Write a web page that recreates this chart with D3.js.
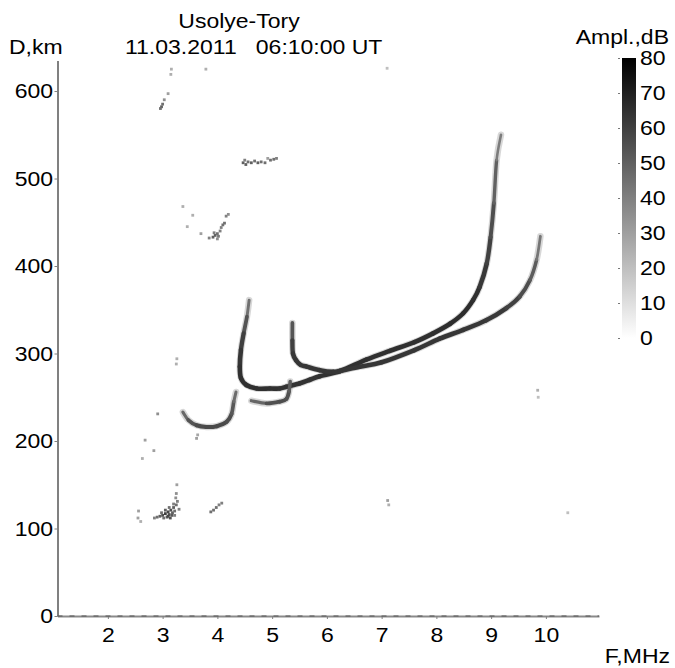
<!DOCTYPE html>
<html><head><meta charset="utf-8">
<script src="https://cdn.jsdelivr.net/npm/d3@7"></script>
<style>
html,body{margin:0;padding:0;background:#fff;}
svg{display:block;}
text{font-family:"Liberation Sans",Arial,sans-serif;fill:#000;white-space:pre;}
</style></head>
<body>
<svg id="chart" width="675" height="668"></svg>
<script>
// ---------- data ----------
const title = "Usolye-Tory";
const subtitle = "11.03.2011   06:10:00 UT";
const yLabel = "D,km";
const xLabel = "F,MHz";
const cLabel = "Ampl.,dB";
const xTicks = [2,3,4,5,6,7,8,9,10];
const yTicks = [0,100,200,300,400,500,600];
const cTicks = [0,10,20,30,40,50,60,70,80];

// traces: [frequency MHz, distance km, amplitude dB]
const traceA = [
 [4.58,361,40],[4.54,342,50],[4.48,323,58],[4.43,304,62],[4.41,285,64],[4.43,272,65],
 [4.53,264,65],[4.72,260,65],[4.96,260,65],[5.14,260,64],[5.26,262,64],[5.51,266,64],
 [5.69,270,64],[5.87,274,64],[6.24,280,65],[6.72,293,65],[7.15,303,65],[7.60,313,65],
 [7.94,323,65],[8.25,334,66],[8.49,346,66],[8.67,361,66],[8.79,376,64],[8.92,403,61],
 [8.99,433,58],[9.05,472,53],[9.10,521,46],[9.18,550,36]
];
const traceB = [
 [5.37,335,48],[5.37,315,58],[5.38,300,62],[5.44,292,63],[5.52,287,63],[5.63,285,63],
 [5.87,281,63],[6.12,279,63],[6.24,280,63],[6.60,285,63],[7.00,290,63],[7.60,304,63],
 [8.06,317,63],[8.49,327,63],[8.91,338,63],[9.28,352,61],[9.52,365,58],[9.71,384,54],
 [9.83,407,48],[9.90,434,38]
];
const traceC = [
 [3.37,233,42],[3.47,224,52],[3.62,218,56],[3.80,216,57],[3.99,217,57],[4.17,222,57],
 [4.26,231,55],[4.30,245,50],[4.34,256,42]
];
const traceD = [
 [4.62,246,42],[4.90,243,54],[5.14,245,56],[5.26,248,56],[5.31,257,54],[5.33,268,48]
];
// scattered echoes: [frequency MHz, distance km, amplitude dB]
const echoes = [
 [3.00,115,55],[3.05,117,60],[3.10,119,58],[3.15,121,55],[3.20,124,50],[3.25,127,45],
 [2.95,114,50],[2.90,113,45],[3.08,113,50],[3.12,116,55],[3.18,118,50],[3.22,120,45],
 [3.02,112,45],[2.85,112,40],[3.27,131,40],[3.25,140,35],[3.26,150,30],[3.24,135,35],
 [2.55,112,30],[2.56,120,30],[2.60,108,25],[3.30,122,40],[3.12,124,45],[3.05,121,50],
 [3.14,112,55],[3.10,114,58],[3.17,115,52],[3.20,128,40],[2.98,118,45],[3.22,115,40],
 [3.88,119,45],[3.93,121,45],[3.98,124,45],[4.03,127,40],[4.08,129,40],
 [2.91,231,35],[2.68,201,30],[2.84,189,30],[2.63,180,25],[3.62,203,30],[3.64,207,28],
 [3.25,288,25],[3.26,294,25],
 [3.92,433,50],[3.96,435,50],[4.00,437,45],[4.05,440,40],[4.10,447,45],[4.13,449,45],
 [4.16,457,40],[4.20,459,35],[3.37,468,25],[3.55,458,25],[3.45,445,25],[3.70,437,30],
 [3.85,432,40],[4.00,431,35],[3.94,438,40],[4.07,444,40],[4.02,434,42],
 [4.47,518,50],[4.52,516,50],[4.56,519,45],[4.62,518,50],[4.68,520,45],[4.74,518,50],
 [4.80,519,45],[4.87,518,45],[4.97,521,45],[5.03,522,45],[5.08,523,40],[4.50,521,40],
 [4.92,523,30],
 [2.98,582,50],[3.00,585,45],[2.96,580,45],[3.03,590,35],[3.10,597,30],[3.16,625,25],
 [3.15,619,25],[3.79,625,25],
 [7.11,132,30],[7.13,127,25],[9.85,258,25],[9.86,250,20],[10.40,118,20],[7.10,626,20]
];

// ---------- layout ----------
const svg = d3.select("#chart");
const FS = 19.5, SX = 1.18;
const x = d3.scaleLinear().domain([1.08, 10.97]).range([57.5, 599]);
const y = d3.scaleLinear().domain([0, 635]).range([616, 60.4]);
const color = d3.scaleLinear().domain([0, 80]).range(["#ffffff", "#000000"]);
const cy = d3.scaleLinear().domain([0, 80]).range([338, 58]);
const widthOf = d3.scaleLinear().domain([35, 62]).range([2, 4.6]).clamp(true);

function label(g, px, py, str, anchor){
  return g.append("text")
    .attr("transform", `translate(${px},${py}) scale(${SX},1)`)
    .attr("text-anchor", anchor || "start")
    .attr("font-size", FS)
    .text(str);
}

// titles
label(svg, 239, 28, title, "middle");
label(svg, 125, 54, subtitle, "start");
label(svg, 9, 54, yLabel, "start");
label(svg, 669, 44, cLabel, "end");
label(svg, 670, 663, xLabel, "end");

// ---------- plot data ----------
const plot = svg.append("g");
const traces = [traceA, traceB, traceC, traceD];
const line = d3.line().x(d => x(d[0])).y(d => y(d[1])).curve(d3.curveCatmullRom.alpha(0));

// soft halo
traces.forEach(t => {
  plot.append("path").datum(t).attr("d", line)
    .attr("fill", "none").attr("stroke", color(28))
    .attr("stroke-width", 6.5).attr("stroke-linecap", "round")
    .attr("stroke-linejoin", "round").attr("opacity", 0.45);
});
// smooth core pieces coloured by amplitude (one Catmull-Rom span per data interval)
function span(t, i){
  const P = j => { const k = Math.max(0, Math.min(t.length - 1, j)); return [x(t[k][0]), y(t[k][1])]; };
  const p0 = P(i-1), p1 = P(i), p2 = P(i+1), p3 = P(i+2);
  const p = d3.path();
  p.moveTo(p1[0], p1[1]);
  p.bezierCurveTo(p1[0] + (p2[0]-p0[0])/6, p1[1] + (p2[1]-p0[1])/6,
                  p2[0] - (p3[0]-p1[0])/6, p2[1] - (p3[1]-p1[1])/6,
                  p2[0], p2[1]);
  return p.toString();
}
traces.forEach(t => {
  const idx = d3.range(t.length - 1);
  plot.append("g").selectAll("path").data(idx).join("path")
    .attr("d", i => span(t, i))
    .attr("fill", "none")
    .attr("stroke", i => color((t[i][2] + t[i+1][2]) / 2))
    .attr("stroke-width", i => widthOf((t[i][2] + t[i+1][2]) / 2))
    .attr("stroke-linecap", "round");
});
// scattered echoes
plot.append("g").selectAll("rect").data(echoes).join("rect")
  .attr("x", d => x(d[0]) - 1.4).attr("y", d => y(d[1]) - 1.4)
  .attr("width", 2.8).attr("height", 2.8)
  .attr("fill", d => color(d[2]));

// ---------- axes ----------
const gy = svg.append("g").attr("transform", `translate(${x.range()[0]},0)`)
  .call(d3.axisLeft(y).tickValues(yTicks).tickSize(3).tickSizeOuter(0));
gy.select(".domain").attr("stroke", "#808080").attr("stroke-width", 2);
gy.selectAll(".tick line").attr("stroke", "#808080").attr("stroke-width", 1);
gy.selectAll(".tick text").attr("x", null).attr("dy", null)
  .attr("transform", `translate(-4.5,${FS*0.35}) scale(${SX},1)`)
  .attr("font-size", FS).attr("font-family", null).attr("fill", "#000");

const gx = svg.append("g").attr("transform", `translate(0,${y(0)})`)
  .call(d3.axisBottom(x).tickValues(xTicks).tickSize(3).tickSizeOuter(0));
gx.select(".domain").attr("stroke", "#8a8a8a").attr("stroke-width", 2);
gx.selectAll(".tick line").attr("stroke", "#808080").attr("stroke-width", 1);
gx.selectAll(".tick text").attr("y", null).attr("dy", null)
  .attr("transform", `translate(0,${26}) scale(${SX},1)`)
  .attr("font-size", FS).attr("font-family", null).attr("fill", "#000");
// darker ground-echo dashes along the zero line
svg.append("line")
  .attr("x1", x.range()[0]).attr("x2", x.range()[1])
  .attr("y1", y(0)).attr("y2", y(0))
  .attr("stroke", "#555").attr("stroke-width", 1.2).attr("stroke-dasharray", "5,7");

// ---------- colour bar ----------
const defs = svg.append("defs");
const grad = defs.append("linearGradient").attr("id", "cbar")
  .attr("x1", 0).attr("y1", 1).attr("x2", 0).attr("y2", 0);
cTicks.forEach(v => grad.append("stop")
  .attr("offset", v / 80).attr("stop-color", color(v)));
svg.append("rect").attr("x", 622).attr("y", cy(80)).attr("width", 14)
  .attr("height", cy(0) - cy(80)).attr("fill", "url(#cbar)");
const gcl = svg.append("g").attr("transform", "translate(620,0)")
  .call(d3.axisLeft(cy).tickValues(cTicks).tickSize(2).tickFormat(""));
gcl.select(".domain").remove();
gcl.selectAll(".tick line").attr("stroke", "#777");
const gcr = svg.append("g").attr("transform", "translate(636,0)")
  .call(d3.axisRight(cy).tickValues(cTicks).tickSize(0));
gcr.select(".domain").remove();
gcr.selectAll(".tick text").attr("x", null).attr("dy", null)
  .attr("transform", `translate(4,${FS*0.35}) scale(${SX},1)`)
  .attr("font-size", FS).attr("font-family", null).attr("fill", "#000");
</script>
</body></html>
